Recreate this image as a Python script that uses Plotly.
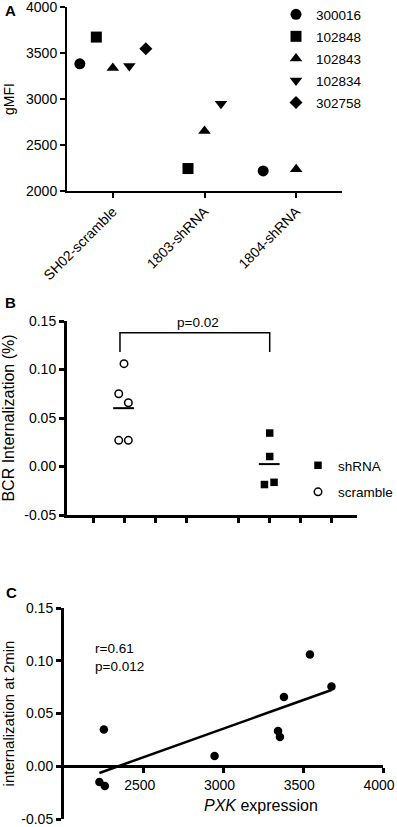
import numpy as np
import plotly.graph_objects as go

FONT = "Liberation Sans, Arial, sans-serif"

# ---------------- Panel A data ----------------
A_CATEGORIES = ["SH02-scramble", "1803-shRNA", "1804-shRNA"]
A_DONORS = ["300016", "102848", "102843", "102834", "302758"]
A_SYMBOLS = ["circle", "square", "triangle-up", "triangle-down", "diamond"]
A_300016 = [3382, None, 2218]
A_102848 = [3673, 2244, None]
A_102843 = [3338, 2651, 2236]
A_102834 = [3360, 2949, None]
A_302758 = [3545, None, None]
A_VALUES = [A_300016, A_102848, A_102843, A_102834, A_302758]
A_YTICKS = [2000, 2500, 3000, 3500, 4000]

# ---------------- Panel B data ----------------
B_GROUPS = ["scramble", "shRNA"]
B_SCRAMBLE = [0.106, 0.075, 0.0657, 0.027, 0.027]
B_SHRNA = [0.0345, 0.0103, -0.0186, -0.0163]
B_YTICKVALS = [-0.05, 0.0, 0.05, 0.10, 0.15]
B_YTICKTEXT = ["-0.05", "0.00", "0.05", "0.10", "0.15"]
B_PVALUE = "p=0.02"

# ---------------- Panel C data ----------------
C_PXK = [2222, 2256, 2250, 2944, 3342, 3354, 3379, 3542, 3677]
C_INTERNAL = [-0.0149, -0.0187, 0.0348, 0.0098, 0.0335, 0.0277, 0.0657, 0.106, 0.0755]
C_XTICKS = [2500, 3000, 3500, 4000]
C_YTICKVALS = [-0.05, 0.0, 0.05, 0.10, 0.15]
C_YTICKTEXT = ["-0.05", "0.00", "0.05", "0.10", "0.15"]
C_STATS = "r=0.61<br>p=0.012"

# ---------------- layout helpers ----------------
W, H = 397, 827
def px_x(p):
    return p / W
def px_y(p):
    return 1 - p / H

fig = go.Figure()

# Panel A: dodge donors within each category
A_SLOT = 0.18
for i, (donor, sym, vals) in enumerate(zip(A_DONORS, A_SYMBOLS, A_VALUES)):
    xs, ys = [], []
    for ci, v in enumerate(vals):
        if v is not None:
            xs.append(ci + (i - 2) * A_SLOT)
            ys.append(v)
    fig.add_trace(go.Scatter(
        x=xs, y=ys, mode="markers", name=donor, legend="legend", legendgroup=donor,
        marker=dict(symbol=sym, size=11 if sym != "diamond" else 10, color="black"),
        xaxis="x", yaxis="y"))

# Panel B
B_CENTERS = [2.0, 6.7]
B_DODGE_SCR = [0.0, -0.17, 0.14, -0.17, 0.14]
B_DODGE_SH = [0.0, 0.0, -0.17, 0.14]
fig.add_trace(go.Scatter(
    x=[B_CENTERS[1] + d for d in B_DODGE_SH], y=B_SHRNA, mode="markers", name="shRNA",
    legend="legend2", legendgroup="sh",
    marker=dict(symbol="square", size=7.5, color="black"), xaxis="x2", yaxis="y2"))
fig.add_trace(go.Scatter(
    x=[B_CENTERS[0] + d for d in B_DODGE_SCR], y=B_SCRAMBLE, mode="markers", name="scramble",
    legend="legend2", legendgroup="scr",
    marker=dict(symbol="circle-open", size=7.5, color="black", line=dict(width=1.5)),
    xaxis="x2", yaxis="y2"))
for c, vals in zip(B_CENTERS, [B_SCRAMBLE, B_SHRNA]):
    m = float(np.mean(vals))
    fig.add_trace(go.Scatter(x=[c - 0.35, c + 0.32], y=[m, m], mode="lines",
                             line=dict(color="black", width=2), showlegend=False,
                             hoverinfo="skip", xaxis="x2", yaxis="y2"))
top = max(B_SCRAMBLE + B_SHRNA)
bx0, bx1 = B_CENTERS[0] - 0.13, B_CENTERS[1]
fig.add_trace(go.Scatter(x=[bx0, bx0, bx1, bx1],
                         y=[top + 0.012, top + 0.032, top + 0.032, top + 0.012],
                         mode="lines", line=dict(color="black", width=1.5),
                         showlegend=False, hoverinfo="skip", xaxis="x2", yaxis="y2"))

# Panel C
fig.add_trace(go.Scatter(x=C_PXK, y=C_INTERNAL, mode="markers", showlegend=False,
                         marker=dict(size=8.5, color="black"), xaxis="x3", yaxis="y3"))
slope, icpt = np.polyfit(C_PXK, C_INTERNAL, 1)
fx = np.array([min(C_PXK), max(C_PXK)])
fig.add_trace(go.Scatter(x=fx, y=slope * fx + icpt, mode="lines", showlegend=False,
                         line=dict(color="black", width=2.5), xaxis="x3", yaxis="y3"))

# domains
A_xd = [px_x(67), px_x(342)]
A_yd = [px_y(191), px_y(7)]
B_xd = [px_x(67), px_x(357)]
B_yd = [px_y(515), px_y(321)]
C_xd = [px_x(64), px_x(383)]
C_yd = [px_y(819), px_y(608)]
C_zero_pos = C_yd[0] + (0 - (-0.05)) / 0.2 * (C_yd[1] - C_yd[0])

axis_common = dict(showgrid=False, zeroline=False, showline=True, linecolor="black",
                   automargin=False, ticks="outside", tickcolor="black",
                   ticklabeloverflow="allow",
                   tickfont=dict(size=14, color="black"))

fig.update_layout(
    template="none",
    width=W, height=H, margin=dict(l=0, r=0, t=0, b=0, autoexpand=False),
    paper_bgcolor="white", plot_bgcolor="white",
    font=dict(family=FONT, color="black", size=14),
    showlegend=True,
    xaxis=dict(**axis_common, domain=A_xd, range=[-0.5, 2.5], anchor="y",
               tickvals=list(range(len(A_CATEGORIES))), ticktext=A_CATEGORIES,
               tickangle=-45, linewidth=2, tickwidth=2, ticklen=5),
    yaxis=dict(**axis_common, domain=A_yd, range=[2000, 4000], anchor="x",
               tickvals=A_YTICKS, linewidth=2, tickwidth=2, ticklen=5,
               title=dict(text="gMFI", font=dict(size=14), standoff=8)),
    xaxis2=dict(**axis_common, domain=B_xd, range=[0.161, 9.516], anchor="y2",
                tickvals=[1, 2, 3, 4, 5.7, 6.7, 7.7, 8.7], showticklabels=False,
                linewidth=3, tickwidth=2.5, ticklen=5),
    yaxis2=dict(**axis_common, domain=B_yd, range=[-0.05, 0.15], anchor="x2",
                tickvals=B_YTICKVALS, ticktext=B_YTICKTEXT,
                linewidth=3, tickwidth=2.5, ticklen=5,
                title=dict(text="BCR Internalization (%)", font=dict(size=16), standoff=8)),
    xaxis3=dict(**axis_common, domain=C_xd, range=[2000, 4000], anchor="free",
                position=C_zero_pos, tickvals=C_XTICKS, ticklabelshift=-4,
                linewidth=3, tickwidth=2.5, ticklen=5),
    yaxis3=dict(**axis_common, domain=C_yd, range=[-0.05, 0.15], anchor="x3",
                tickvals=C_YTICKVALS, ticktext=C_YTICKTEXT,
                linewidth=3, tickwidth=2.5, ticklen=5,
                title=dict(text="internalization at 2min", font=dict(size=15), standoff=8)),
    legend=dict(x=px_x(276), y=px_y(-1), xanchor="left", yanchor="top",
                font=dict(size=13.5), tracegroupgap=1.5, bgcolor="rgba(0,0,0,0)"),
    legend2=dict(x=px_x(298), y=px_y(450), xanchor="left", yanchor="top",
                 font=dict(size=13.5), tracegroupgap=6, bgcolor="rgba(0,0,0,0)"),
)

annotations = [
    dict(text="<b>A</b>", x=px_x(3), y=px_y(10), xref="paper", yref="paper",
         xanchor="left", yanchor="middle", showarrow=False, font=dict(size=15)),
    dict(text="<b>B</b>", x=px_x(3), y=px_y(302), xref="paper", yref="paper",
         xanchor="left", yanchor="middle", showarrow=False, font=dict(size=15)),
    dict(text="<b>C</b>", x=px_x(4), y=px_y(592), xref="paper", yref="paper",
         xanchor="left", yanchor="middle", showarrow=False, font=dict(size=15)),
    dict(text=B_PVALUE, x=(bx0 + bx1) / 2 + 0.1, y=top + 0.032, xref="x2", yref="y2",
         xanchor="center", yanchor="bottom", showarrow=False, font=dict(size=13.5), yshift=1),
    dict(text=C_STATS, x=2181, y=0.121, xref="x3", yref="y3", xanchor="left",
         yanchor="top", align="left", showarrow=False, font=dict(size=13.5)),
    dict(text="<i>PXK</i> expression", x=px_x(261), y=px_y(805), xref="paper", yref="paper",
         xanchor="center", yanchor="middle", showarrow=False, font=dict(size=16)),
]
fig.update_layout(annotations=annotations)

fig.write_html("out.html", config={"displayModeBar": False},
               post_script="document.body.style.margin='0';")
